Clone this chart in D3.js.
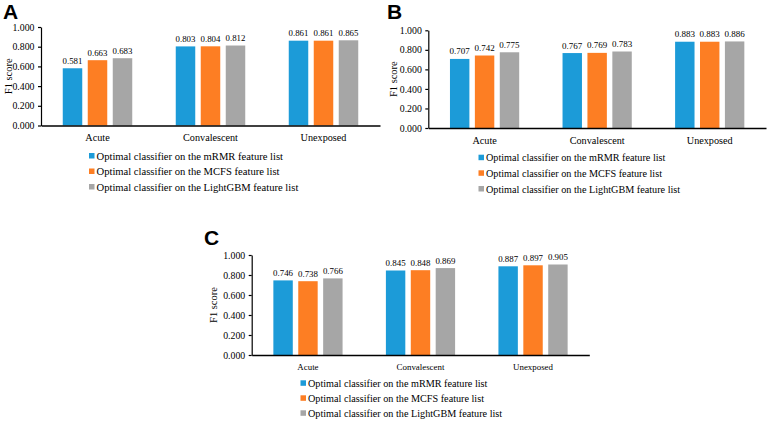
<!DOCTYPE html>
<html>
<head>
<meta charset="utf-8">
<script src="https://cdn.jsdelivr.net/npm/d3@7"></script>
<style>
  body { margin: 0; background: #fff; }
  svg text { font-family: "Liberation Serif", "Times New Roman", serif; fill: #000; }
  .letter { font-family: "Liberation Sans", Arial, sans-serif !important; font-weight: bold; }
</style>
</head>
<body>
<svg id="chart" width="768" height="421"></svg>
<script>
var categories = ["Acute", "Convalescent", "Unexposed"];
var seriesNames = [
  "Optimal classifier on the mRMR feature list",
  "Optimal classifier on the MCFS feature list",
  "Optimal classifier on the LightGBM feature list"
];
var seriesColors = ["#1c9bd8", "#fd7e23", "#a6a6a6"];
var yTicks = [0, 0.2, 0.4, 0.6, 0.8, 1.0];

// panel A
var scoresA_mRMR = [0.581, 0.803, 0.861];
var scoresA_MCFS = [0.663, 0.804, 0.861];
var scoresA_LightGBM = [0.683, 0.812, 0.865];
// panel B
var scoresB_mRMR = [0.707, 0.767, 0.883];
var scoresB_MCFS = [0.742, 0.769, 0.883];
var scoresB_LightGBM = [0.775, 0.783, 0.886];
// panel C
var scoresC_mRMR = [0.746, 0.845, 0.887];
var scoresC_MCFS = [0.738, 0.848, 0.897];
var scoresC_LightGBM = [0.766, 0.869, 0.905];

var fmt = d3.format(".3f");
var svg = d3.select("#chart");

// layout of the three panels
var panels = [
  { letter: "A", lx: 3, ly: 18.5, left: 41, right: 380, top: 27, bottom: 125.5,
    fsCat: 10.2, fsVal: 8.8, yLabelX: 12, legX: 89, legY: [156, 171.5, 187], fsLeg: 10.6,
    series: [scoresA_mRMR, scoresA_MCFS, scoresA_LightGBM] },
  { letter: "B", lx: 387, ly: 18.5, left: 428.3, right: 766, top: 30.3, bottom: 128,
    fsCat: 10.2, fsVal: 9, yLabelX: 397.4, legX: 478.5, legY: [157.7, 173.3, 189], fsLeg: 10.2,
    series: [scoresB_mRMR, scoresB_MCFS, scoresB_LightGBM] },
  { letter: "C", lx: 204, ly: 245, left: 251.7, right: 589.3, top: 255, bottom: 355,
    fsCat: 8.9, fsVal: 8.9, yLabelX: 217, legX: 300.5, legY: [383.3, 398.3, 413.3], fsLeg: 10.2,
    series: [scoresC_mRMR, scoresC_MCFS, scoresC_LightGBM] }
];

function drawPanel(p) {
  var g = svg.append("g");

  g.append("text").attr("class", "letter")
    .attr("x", p.lx).attr("y", p.ly)
    .style("font-size", "21px")
    .text(p.letter);

  var x0 = d3.scaleBand()
    .domain(categories)
    .range([p.left, p.right])
    .paddingInner(0.385)
    .paddingOuter(0.1925);

  var x1 = d3.scaleBand()
    .domain(d3.range(seriesNames.length))
    .range([0, x0.bandwidth()])
    .paddingInner(0.22);

  var y = d3.scaleLinear().domain([0, 1]).range([p.bottom, p.top]);

  // bars
  p.series.forEach(function(vals, si) {
    g.selectAll(".bar" + si)
      .data(vals)
      .enter().append("rect")
      .attr("x", function(d, i) { return x0(categories[i]) + x1(si); })
      .attr("y", function(d) { return y(d); })
      .attr("width", x1.bandwidth())
      .attr("height", function(d) { return y(0) - y(d); })
      .style("fill", seriesColors[si]);

    g.selectAll(".val" + si)
      .data(vals)
      .enter().append("text")
      .attr("x", function(d, i) { return x0(categories[i]) + x1(si) + x1.bandwidth() / 2; })
      .attr("y", function(d) { return y(d) - 4.5; })
      .attr("text-anchor", "middle")
      .style("font-size", p.fsVal + "px")
      .text(function(d) { return fmt(d); });
  });

  // y axis
  var yAxis = g.append("g")
    .attr("transform", "translate(" + p.left + ",0)")
    .call(d3.axisLeft(y).tickValues(yTicks).tickSize(3).tickSizeOuter(0).tickPadding(3.5).tickFormat(fmt));
  yAxis.selectAll("text").style("font-family", "Liberation Serif").style("font-size", "9.8px").style("fill", "#000");
  yAxis.select(".domain").attr("stroke", "#000").attr("stroke-width", 1.2);
  yAxis.selectAll(".tick line").attr("stroke", "#000").attr("stroke-width", 1.2);

  // x axis baseline + category labels
  var xAxis = g.append("g")
    .attr("transform", "translate(0," + p.bottom + ")")
    .call(d3.axisBottom(x0).tickSize(0).tickPadding(8.3));
  xAxis.selectAll("text").style("font-family", "Liberation Serif").style("font-size", p.fsCat + "px").style("fill", "#000");
  xAxis.select(".domain").attr("stroke", "#000").attr("stroke-width", 1.4);

  // y axis title
  g.append("text")
    .attr("transform", "translate(" + p.yLabelX + "," + ((p.top + p.bottom) / 2) + ") rotate(-90)")
    .attr("text-anchor", "middle")
    .style("font-size", "10.5px")
    .text("F1 score");

  // legend
  seriesNames.forEach(function(name, si) {
    g.append("rect")
      .attr("x", p.legX).attr("y", p.legY[si] - 3)
      .attr("width", 5.5).attr("height", 5.5)
      .style("fill", seriesColors[si]);
    g.append("text")
      .attr("x", p.legX + 7.5).attr("y", p.legY[si] + 3.6)
      .style("font-size", p.fsLeg + "px")
      .text(name);
  });
}

panels.forEach(drawPanel);
</script>
</body>
</html>
